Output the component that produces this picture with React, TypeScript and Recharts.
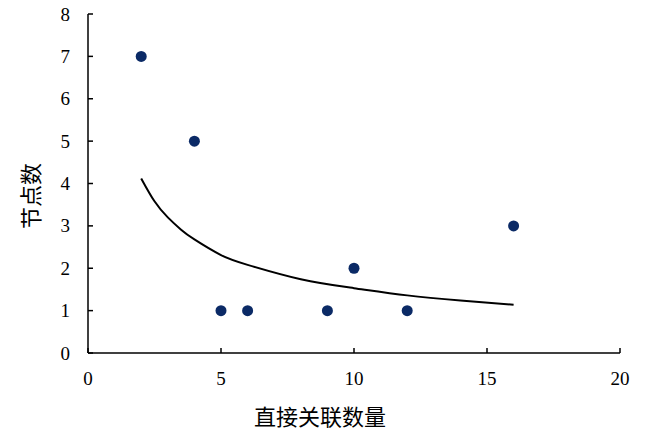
import React from 'react';
import { ComposedChart, Scatter, Line, XAxis, YAxis, Label } from 'recharts';

const pointX = [2, 4, 5, 6, 9, 10, 12, 16];
const pointY = [7, 5, 1, 1, 1, 2, 1, 3];
const trendX = [2, 2.5, 3, 3.5, 4, 5, 6, 8, 10, 12, 14, 16];
const trendY = [4.12, 3.58, 3.2, 2.91, 2.68, 2.31, 2.08, 1.74, 1.53, 1.36, 1.24, 1.14];
const xTicks = [0, 5, 10, 15, 20];
const yTicks = [0, 1, 2, 3, 4, 5, 6, 7, 8];
const xTitle = '直接关联数量';
const yTitle = '节点数';

const points = pointX.map((x, i) => ({ x, y: pointY[i] }));
const trend = trendX.map((x, i) => ({ x, y: trendY[i] }));

const serif = 'Liberation Serif';
const cjkFont = 'Noto Sans CJK SC';

const renderXTick = (p: any) => (
  <text x={p.x} y={p.y} textAnchor="middle" dominantBaseline="central" fontFamily={serif} fontSize={19} fill="#000">
    {p.payload.value}
  </text>
);
const renderYTick = (p: any) => (
  <text x={p.x} y={p.y} textAnchor="end" dominantBaseline="central" fontFamily={serif} fontSize={19} fill="#000">
    {p.payload.value}
  </text>
);

export default function App() {
  return (
    <div style={{ position: 'absolute', left: 0, top: 0 }}>
      <ComposedChart width={650} height={440} margin={{ top: 14, right: 30, left: 0, bottom: 0 }}>
        <XAxis
          type="number"
          dataKey="x"
          domain={[0, 20]}
          ticks={xTicks}
          height={87}
          tickSize={-5}
          tickMargin={30}
          axisLine={{ stroke: '#000', strokeWidth: 1.5 }}
          tickLine={{ stroke: '#000', strokeWidth: 1.5 }}
          tick={renderXTick}
          allowDataOverflow
        >
          <Label
            content={() => (
              <text x={320} y={415} textAnchor="middle" dominantBaseline="central" fontFamily={cjkFont} fontSize={22} fill="#000">
                {xTitle}
              </text>
            )}
          />
        </XAxis>
        <YAxis
          type="number"
          domain={[0, 8]}
          ticks={yTicks}
          width={88}
          tickSize={-5}
          tickMargin={23}
          axisLine={{ stroke: '#000', strokeWidth: 1.5 }}
          tickLine={{ stroke: '#000', strokeWidth: 1.5 }}
          tick={renderYTick}
          allowDataOverflow
        >
          <Label
            content={() => (
              <text x={29} y={196} textAnchor="middle" dominantBaseline="central" fontFamily={cjkFont} fontSize={22} fill="#000" transform="rotate(-90 29 196)">
                {yTitle}
              </text>
            )}
          />
        </YAxis>
        <Line
          data={trend}
          dataKey="y"
          type="natural"
          stroke="#000"
          strokeWidth={2}
          dot={false}
          activeDot={false}
          isAnimationActive={false}
        />
        <Scatter
          data={points}
          dataKey="y"
          fill="#0b2a66"
          shape={(p: any) => <circle cx={p.cx} cy={p.cy} r={5.5} fill="#0b2a66" />}
          isAnimationActive={false}
        />
      </ComposedChart>
    </div>
  );
}
